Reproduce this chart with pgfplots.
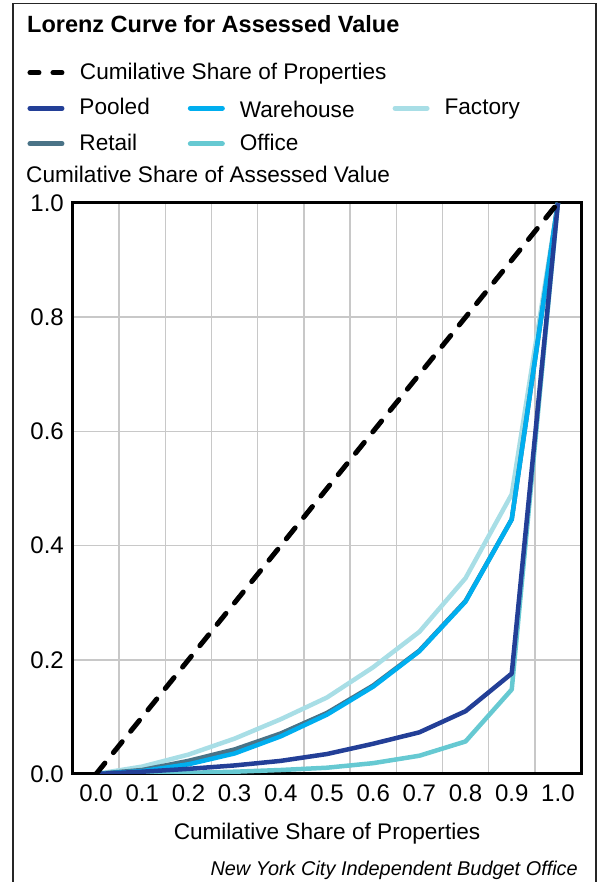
\documentclass[border=0pt]{standalone}
\usepackage{fontspec}
\setmainfont{Liberation Sans}
\usepackage{pgfplots}
\pgfplotsset{compat=1.18}
\definecolor{pooled}{HTML}{233F97}
\definecolor{warehouse}{HTML}{00AEEF}
\definecolor{factory}{HTML}{A8DEE6}
\definecolor{retail}{HTML}{4A7387}
\definecolor{office}{HTML}{66C9D2}
\definecolor{gridgray}{HTML}{C8C8C8}
\begin{document}
\begin{tikzpicture}
\begin{axis}[
  at={(0pt,0pt)}, anchor=south west,
  scale only axis, width=508pt, height=571pt,
  xmin=-0.5, xmax=10.5, ymin=0, ymax=1,
  xtick={0,1,2,3,4,5,6,7,8,9,10},
  xticklabels={0.0,0.1,0.2,0.3,0.4,0.5,0.6,0.7,0.8,0.9,1.0},
  minor xtick={0.5,1.5,2.5,3.5,4.5,5.5,6.5,7.5,8.5,9.5},
  xminorgrids=true,
  ytick={0,0.2,0.4,0.6,0.8,1.0},
  yticklabels={0.0,0.2,0.4,0.6,0.8,1.0},
  ymajorgrids=true,
  major tick length=0pt, minor tick length=0pt,
  grid style={gridgray, line width=1.5pt},
  minor grid style={gridgray, line width=1.5pt},
  axis line style={black, line width=3pt},
  tick label style={font=\fontsize{24}{28}\selectfont},
  /pgf/number format/assume math mode=true,
  xticklabel style={anchor=north, inner sep=0pt, yshift=-11pt},
  yticklabel style={anchor=east, inner sep=0pt, xshift=-9pt},
  xlabel={Cumilative Share of Properties},
  xlabel style={font=\fontsize{22.6}{27}\selectfont, anchor=base, inner sep=0pt, at={(axis description cs:0.5,0)}, yshift=-65pt},
  ylabel={Cumilative Share of Assessed Value},
  ylabel style={font=\fontsize{22.6}{27}\selectfont, rotate=-90, anchor=base west, inner sep=0pt, at={(axis description cs:0,1)}, xshift=-47pt, yshift=20pt},
  legend image code/.code={\draw[#1, line cap=round] (0pt,0pt) -- (32pt,0pt);},
  legend columns=3,
  legend style={draw=none, fill=none, inner sep=0pt, outer sep=0pt,
    at={(axis description cs:-0.0896,1.2469)}, anchor=north west,
    font=\fontsize{22.6}{27}\selectfont,
    nodes={inner sep=0pt, text height=17pt, text depth=4.5pt},
    row sep=14pt,
    /tikz/every odd column/.append style={column sep=15pt},
    /tikz/every even column/.append style={column sep=38pt}},
  legend cell align=left,
]
% drawn curves
\addplot[factory, line width=4.5pt, line join=round, forget plot] coordinates {
(0,0) (1,0.013) (2,0.034) (3,0.062) (4,0.096) (5,0.134) (6,0.187) (7,0.249) (8,0.343) (9,0.49) (10,1.0)};
\addplot[retail, line width=4.5pt, line join=round, forget plot] coordinates {
(0,0) (1,0.007) (2,0.023) (3,0.043) (4,0.071) (5,0.107) (6,0.155) (7,0.216) (8,0.303) (9,0.446) (10,1.0)};
\addplot[warehouse, line width=4.5pt, line join=round, forget plot] coordinates {
(0,0) (1,0.005) (2,0.017) (3,0.036) (4,0.066) (5,0.104) (6,0.153) (7,0.215) (8,0.302) (9,0.446) (10,1.0)};
\addplot[office, line width=4.5pt, line join=round, forget plot] coordinates {
(0,0) (1,0.001) (2,0.002) (3,0.004) (4,0.007) (5,0.011) (6,0.019) (7,0.032) (8,0.057) (9,0.148) (10,1.0)};
\addplot[pooled, line width=4.5pt, line join=round, forget plot] coordinates {
(0,0) (1,0.004) (2,0.009) (3,0.015) (4,0.023) (5,0.035) (6,0.053) (7,0.073) (8,0.110) (9,0.176) (10,1.0)};
\addplot[black, line width=5pt, dash pattern=on 14pt off 13.5pt, line cap=round, forget plot] coordinates {
(0,0) (1,0.1) (2,0.2) (3,0.3) (4,0.4) (5,0.5) (6,0.6) (7,0.7) (8,0.8) (9,0.9) (10,1.0)};
% legend
\addlegendimage{black, line width=5pt, dash pattern=on 9pt off 14pt}
\addlegendentry{\rlap{Cumilative Share of Properties}}
\addlegendimage{empty legend}
\addlegendentry{}
\addlegendimage{empty legend}
\addlegendentry{}
\addlegendimage{pooled, line width=5pt}
\addlegendentry{Pooled}
\addlegendimage{warehouse, line width=5pt}
\addlegendentry{\raisebox{-3pt}{Warehouse}}
\addlegendimage{factory, line width=5pt}
\addlegendentry{Factory}
\addlegendimage{retail, line width=5pt}
\addlegendentry{Retail}
\addlegendimage{office, line width=5pt}
\addlegendentry{Office}
\end{axis}
\node[anchor=base west, inner sep=0pt, font=\bfseries\fontsize{23.5}{28}\selectfont] at (-46pt,741pt) {Lorenz Curve for Assessed Value};
\node[anchor=base east, inner sep=0pt, font=\itshape\fontsize{19.9}{24}\selectfont] at (505pt,-101pt) {New York City Independent Budget Office};
\draw[line width=1.5pt, black!85] (-60pt,-120pt) -- (-60pt,770.5pt) -- (523pt,770.5pt) -- (523pt,-120pt);
\pgfresetboundingbox
\useasboundingbox (-73pt,-108pt) rectangle (525pt,774pt);
\end{tikzpicture}
\end{document}
